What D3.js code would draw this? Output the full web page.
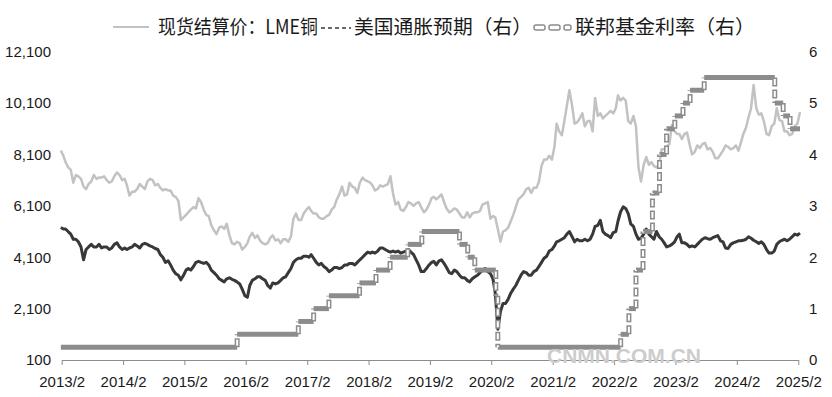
<!DOCTYPE html>
<html>
<head>
<meta charset="utf-8">
<script src="https://cdn.jsdelivr.net/npm/d3@7"></script>
<style>
  body { margin: 0; background: #fff; }
  svg text { font-family: "Liberation Sans", Arial, sans-serif; }
</style>
</head>
<body>
<svg id="chart" width="832" height="397"></svg>
<script>
// x axis labels (one tick each February)
const xTickLabels = ["2013/2","2014/2","2015/2","2016/2","2017/2","2018/2","2019/2",
                     "2020/2","2021/2","2022/2","2023/2","2024/2","2025/2"];
const leftTicks = [100, 2100, 4100, 6100, 8100, 10100, 12100];
const rightTicks = [0, 1, 2, 3, 4, 5, 6];

// LME copper cash settlement, two readings a month (1st, 16th) from 2013/2
const copper = [
  8250,8050, 7800,7600, 7500,7000, 7300,7250, 7150,6850, 6750,6950, 7050,7300, 7150,7200, 7200,7250, 7100,7000, 7050,7250,
  7400,7300, 7100,7150, 6900,6500, 6650,6650, 6750,6950, 6850,6750, 7050,7150, 7100,6900, 6950,6800, 6700,6750, 6700,6700, 6500,6450,
  6300,5550, 5650,5750, 5850,5950, 6050,6000, 6400,6250, 5950,5750, 5700,5350, 5150,5000, 5250,5300, 5200,5400, 4950,4650, 4600,4700,
  4650,4400, 4500,4650, 4900,5050, 4850,4950, 4750,4650, 4600,4650, 4850,4950, 4750,4800, 4650,4800, 4800,4700, 4900,5600, 5800,5550,
  5550,5800, 5950,6050, 5900,5800, 5800,5650, 5600,5600, 5700,5750, 5950,6050, 6350,6550, 6850,6500, 6550,7000, 6850,6800, 6600,7000,
  7200,7100, 7050,7000, 6900,6700, 6750,6900, 6850,6900, 6950,7250, 6600,6150, 6250,5950, 5900,6050, 6250,6200, 6100,6200, 6250,6050,
  5850,5950, 6150,6400, 6450,6350, 6450,6550, 6250,6000, 5850,5900, 6000,5950, 5800,5650, 5650,5850, 5650,5800, 5850,5850, 5900,6150,
  6200,6250, 5600,5700, 5650,5200, 4700,5100, 5150,5250, 5500,5750, 6050,6350, 6450,6550, 6750,6800, 6600,6800, 6800,7050, 7650,7900,
  7900,8050, 7900,8400, 9300,9000, 8850,9400, 10000,10600, 10000,9300, 9350,9500, 9700,9200, 9400,9400, 9000,10300, 9600,9700, 9500,9600,
  9700,9800, 9700,9900, 10400,10200, 10300,10200, 9400,9300, 9600,9200, 7600,7050, 7700,8000, 7700,7800, 7650,7600, 7700,8300, 8300,8400,
  8500,9250, 9000,8900, 8900,8700, 8900,8950, 8500,8100, 8200,8450, 8350,8500, 8550,8300, 8350,8200, 7950,7950, 8100,8250, 8450,8400,
  8300,8350, 8450,8250, 8550,8900, 9150,9550, 9900,10800, 9900,9650, 9700,9400, 8900,8850, 9200,9300, 9900,9450, 9400,9000, 9000,8850,
  8900,9200, 9300,9750
];

// US inflation expectations (right axis), same dates
const inflation = [
  2.58,2.55, 2.55,2.50, 2.45,2.35, 2.35,2.30, 2.20,1.95, 2.15,2.20, 2.25,2.20, 2.20,2.25, 2.18,2.20, 2.20,2.15, 2.18,2.25,
  2.28,2.20, 2.15,2.18, 2.15,2.18, 2.20,2.25, 2.22,2.18, 2.25,2.27, 2.25,2.22, 2.20,2.17, 2.15,2.05, 2.00,1.90, 1.93,1.85, 1.75,1.68,
  1.65,1.56, 1.65,1.75, 1.78,1.75, 1.82,1.90, 1.92,1.90, 1.88,1.90, 1.85,1.75, 1.70,1.65, 1.58,1.55, 1.52,1.58, 1.60,1.57, 1.55,1.52,
  1.48,1.38, 1.25,1.22, 1.45,1.55, 1.58,1.62, 1.62,1.58, 1.55,1.45, 1.40,1.50, 1.48,1.50, 1.55,1.60, 1.62,1.70, 1.78,1.90, 1.95,1.98,
  1.98,2.02, 2.02,2.00, 2.05,1.98, 1.90,1.85, 1.88,1.82, 1.78,1.72, 1.75,1.80, 1.80,1.78, 1.80,1.85, 1.85,1.88, 1.88,1.85, 1.90,1.95,
  2.00,2.05, 2.10,2.08, 2.10,2.08, 2.12,2.18, 2.18,2.15, 2.12,2.10, 2.12,2.10, 2.12,2.08, 2.10,2.12, 2.15,2.10, 2.05,1.95, 1.85,1.72,
  1.72,1.78, 1.85,1.90, 1.92,1.85, 1.93,1.95, 1.88,1.80, 1.70,1.68, 1.75,1.72, 1.65,1.60, 1.60,1.55, 1.52,1.58, 1.62,1.65, 1.70,1.75,
  1.78,1.72, 1.68,1.58, 1.30,0.60, 0.95,1.10, 1.10,1.18, 1.30,1.38, 1.45,1.55, 1.65,1.72, 1.70,1.65, 1.65,1.72, 1.75,1.82, 1.90,1.98,
  2.02,2.12, 2.15,2.22, 2.30,2.32, 2.35,2.38, 2.45,2.50, 2.40,2.30, 2.35,2.32, 2.32,2.35, 2.32,2.35, 2.45,2.60, 2.62,2.72, 2.50,2.45,
  2.42,2.38, 2.48,2.50, 2.70,2.88, 2.98,2.95, 2.85,2.65, 2.60,2.45, 2.35,2.37, 2.45,2.55, 2.45,2.40, 2.35,2.50, 2.40,2.35, 2.28,2.20,
  2.22,2.25, 2.30,2.40, 2.45,2.28, 2.28,2.25, 2.20,2.22, 2.20,2.25, 2.30,2.35, 2.38,2.36, 2.35,2.38, 2.40,2.42, 2.32,2.30, 2.18,2.17,
  2.25,2.28, 2.30,2.32, 2.32,2.33, 2.35,2.40, 2.37,2.33, 2.30,2.27, 2.30,2.25, 2.15,2.08, 2.08,2.12, 2.25,2.30, 2.33,2.35, 2.32,2.35,
  2.40,2.45, 2.43,2.47
];

// Fed funds rate (upper bound, right axis): date of each change and new level
const fedDates = ["2013-02-01","2015-12-17","2016-12-15","2017-03-16","2017-06-15","2017-12-14",
  "2018-03-22","2018-06-14","2018-09-27","2018-12-20","2019-08-01","2019-09-19","2019-10-31",
  "2020-03-04","2020-03-16","2022-03-17","2022-05-05","2022-06-16","2022-07-28","2022-09-22",
  "2022-11-03","2022-12-15","2023-02-02","2023-03-23","2023-05-04","2023-07-27","2024-09-19",
  "2024-11-08","2024-12-19"];
const fedRates = [0.25,0.5,0.75,1.0,1.25,1.5,1.75,2.0,2.25,2.5,2.25,2.0,1.75,1.25,0.25,
  0.5,1.0,1.75,2.5,3.25,4.0,4.5,4.75,5.0,5.25,5.5,5.0,4.75,4.5];
const fedEnd = "2025-02-16";

const svg = d3.select("#chart");
const parse = d3.timeParse("%Y-%m-%d");
const seriesDate = i => new Date(2013, 1 + Math.floor(i / 2), i % 2 ? 16 : 1);

const x = d3.scaleTime()
    .domain([new Date(2013, 1, 6), new Date(2025, 1, 6)])
    .range([61.7, 798.3]);
const yL = d3.scaleLinear().domain([100, 12100]).range([360, 51.7]);
const yR = d3.scaleLinear().domain([0, 6]).range([360, 51.7]);

// axes
const tickDates = xTickLabels.map(s => new Date(+s.slice(0, 4), 1, 6));
const xAxis = svg.append("g")
    .attr("transform", "translate(0,360)")
    .call(d3.axisBottom(x).tickValues(tickDates).tickFormat((d, i) => xTickLabels[i])
        .tickSize(5).tickSizeOuter(0).tickPadding(11));
xAxis.select(".domain").attr("stroke", "#8c8c8c");
xAxis.selectAll(".tick line").attr("stroke", "#8c8c8c");
xAxis.selectAll("text").attr("font-size", 15).attr("fill", "#1a1a1a");

const leftAxis = svg.append("g")
    .attr("transform", "translate(51,0)")
    .call(d3.axisLeft(yL).tickValues(leftTicks).tickFormat(d3.format(",")).tickSize(0).tickPadding(0));
const rightAxis = svg.append("g")
    .attr("transform", "translate(809,0)")
    .call(d3.axisRight(yR).tickValues(rightTicks).tickFormat(d3.format("d")).tickSize(0).tickPadding(0));
[leftAxis, rightAxis].forEach(a => {
  a.select(".domain").remove();
  a.selectAll("text").attr("font-size", 15).attr("fill", "#1a1a1a");
});

// copper
svg.append("path")
    .datum(copper)
    .attr("fill", "none")
    .attr("stroke", "#c2c2c2")
    .attr("stroke-width", 2.5)
    .attr("stroke-linejoin", "round")
    .attr("d", d3.line().x((d, i) => x(seriesDate(i))).y(d => yL(d)));

// inflation expectations
svg.append("path")
    .datum(inflation)
    .attr("fill", "none")
    .attr("stroke", "#383838")
    .attr("stroke-width", 3)
    .attr("stroke-linejoin", "round")
    .attr("d", d3.line().x((d, i) => x(seriesDate(i))).y(d => yR(d)));

// fed funds: solid horizontal runs, hollow dashed jumps
const fedStarts = fedDates.map(parse);
const fedStops = fedStarts.slice(1).concat([parse(fedEnd)]);
const flats = fedRates.map((r, i) => [[x(fedStarts[i]), yR(r)], [x(fedStops[i]), yR(r)]]);
const jumps = fedRates.slice(1).map((r, i) => [[x(fedStarts[i + 1]), yR(fedRates[i])], [x(fedStarts[i + 1]), yR(r)]]);
const seg = d3.line();

svg.append("g").selectAll("path").data(flats).join("path")
    .attr("d", seg).attr("stroke", "#8c8c8c").attr("stroke-width", 5).attr("fill", "none");
const jg = svg.append("g");
jg.selectAll(".outer").data(jumps).join("path").attr("class", "outer")
    .attr("d", seg).attr("fill", "none").attr("stroke", "#8c8c8c")
    .attr("stroke-width", 5).attr("stroke-dasharray", "9,3");
jg.selectAll(".inner").data(jumps).join("path").attr("class", "inner")
    .attr("d", seg).attr("fill", "none").attr("stroke", "#fff")
    .attr("stroke-width", 2).attr("stroke-dasharray", "6,6").attr("stroke-dashoffset", -1.5);

// watermark
svg.append("text")
    .attr("x", 624).attr("y", 363)
    .attr("text-anchor", "middle")
    .attr("font-size", 21).attr("font-weight", "bold")
    .attr("fill", "#cdcdcd")
    .text("CNMN.COM.CN");

// legend
const lg = svg.append("g").attr("font-size", 19.5);
const ly = 27;
let lx = 113;
lg.append("line").attr("x1", lx).attr("x2", lx + 36).attr("y1", ly).attr("y2", ly)
    .attr("stroke", "#c2c2c2").attr("stroke-width", 2);
lx += 45;
function legendText(s, fit) {
  const t = lg.append("text").attr("x", lx).attr("y", ly).attr("dy", "0.35em")
      .attr("fill", "#1a1a1a").style("font-family", '"Noto Sans CJK SC", sans-serif').text(s);
  if (fit) t.attr("textLength", fit).attr("lengthAdjust", "spacingAndGlyphs");
  lx += fit || t.node().getComputedTextLength();
}
legendText("现货结算价：LME铜", 160);
lx += 3;
lg.append("line").attr("x1", lx).attr("x2", lx + 30).attr("y1", ly + 1).attr("y2", ly + 1)
    .attr("stroke", "#383838").attr("stroke-width", 1.5).attr("stroke-dasharray", "4,3");
lx += 33;
legendText("美国通胀预期（右）", 178);
lx += 2;
[11, 11, 7].forEach(w => {
  lg.append("rect").attr("x", lx).attr("y", ly - 2).attr("width", w).attr("height", 5).attr("rx", 2)
      .attr("fill", "#fff").attr("stroke", "#8c8c8c").attr("stroke-width", 1.5);
  lx += w + 4;
});
legendText("联邦基金利率（右）", 180);
</script>
</body>
</html>
